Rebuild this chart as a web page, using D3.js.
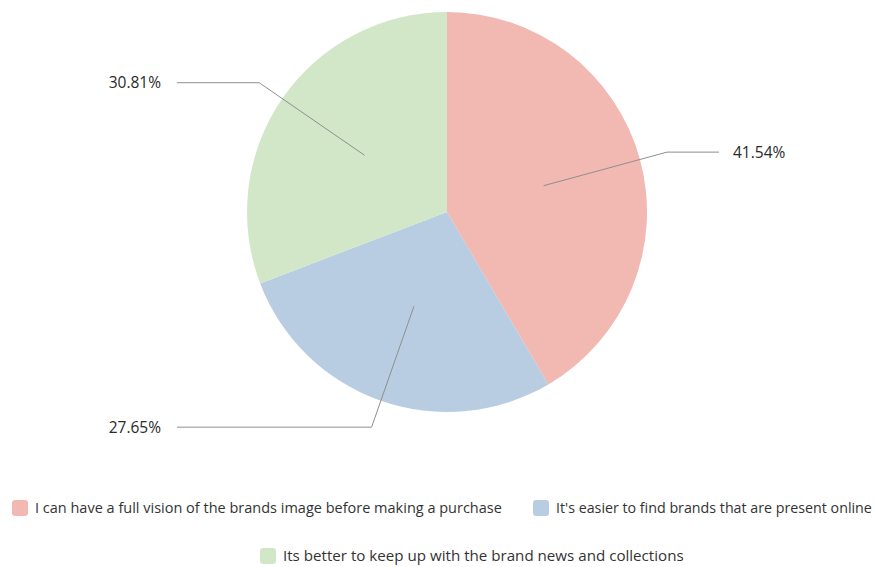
<!DOCTYPE html>
<html>
<head>
<meta charset="utf-8">
<script src="https://cdn.jsdelivr.net/npm/d3@7"></script>
<style>
  html, body { margin: 0; padding: 0; background: #fff; }
  svg { display: block; }
</style>
</head>
<body>
<svg id="chart" width="876" height="567"></svg>
<script>
// Survey answers and their shares (%)
const categories = [
  "I can have a full vision of the brands image before making a purchase",
  "It's easier to find brands that are present online",
  "Its better to keep up with the brand news and collections"
];
const values = [41.54, 27.65, 30.81];
const colors = ["#f2b8b2", "#b8cce2", "#d2e7c8"];

const svg = d3.select("#chart");
const cx = 447, cy = 212, R = 200;

const pie = d3.pie().sort(null).value(d => d)(values);
const arc = d3.arc().innerRadius(0).outerRadius(R);

const g = svg.append("g").attr("transform", `translate(${cx},${cy})`);

g.selectAll("path.slice")
  .data(pie)
  .join("path")
  .attr("class", "slice")
  .attr("d", arc)
  .attr("fill", (d, i) => colors[i]);

// Leader lines: from half radius, out past the rim, then horizontal to the label
const inner = d3.arc().innerRadius(R * 0.5).outerRadius(R * 0.5);
const outer = d3.arc().innerRadius(R * 1.14).outerRadius(R * 1.14);
const fmt = v => v.toFixed(2) + "%";

pie.forEach((d, i) => {
  const mid = (d.startAngle + d.endAngle) / 2;
  const p1 = inner.centroid(d);
  const p2 = outer.centroid(d);
  const right = mid < Math.PI;
  const endX = right ? 272 : -270;
  const p3 = [endX, p2[1]];
  g.append("polyline")
    .attr("points", [p1, p2, p3].map(p => p.join(",")).join(" "))
    .attr("fill", "none")
    .attr("stroke", "#8f8f8f")
    .attr("stroke-width", 1);
  g.append("text")
    .attr("x", right ? endX + 14 : endX - 16)
    .attr("y", p2[1])
    .attr("dy", "0.35em")
    .attr("text-anchor", right ? "start" : "end")
    .attr("font-family", "'Open Sans', 'Liberation Sans', sans-serif")
    .attr("font-size", 15.5)
    .attr("font-weight", 500)
    .attr("fill", "#2a2a2a")
    .text(fmt(values[i]));
});

// Legend: condensed text, squeezed horizontally to a fixed width
const rows = [
  { y: 508, items: [{ i: 0, x: 12, w: 467 }, { i: 1, x: 533, w: 316 }] },
  { y: 556, items: [{ i: 2, x: 260, w: 401 }] }
];
rows.forEach(row => {
  row.items.forEach(it => {
    const lg = svg.append("g").attr("transform", `translate(${it.x},${row.y})`);
    lg.append("rect")
      .attr("x", 0).attr("y", -8)
      .attr("width", 16).attr("height", 16)
      .attr("rx", 3)
      .attr("fill", colors[it.i]);
    const t = lg.append("g").attr("transform", "translate(23,0)")
      .append("text")
      .attr("x", 0).attr("y", 0)
      .attr("dy", "0.35em")
      .attr("font-family", "'Open Sans', sans-serif")
      .attr("font-size", 15)
      .attr("fill", "#333")
      .text(categories[it.i]);
    const len = t.node().getComputedTextLength();
    t.attr("transform", `scale(${it.w / len},1)`);
  });
});
</script>
</body>
</html>
